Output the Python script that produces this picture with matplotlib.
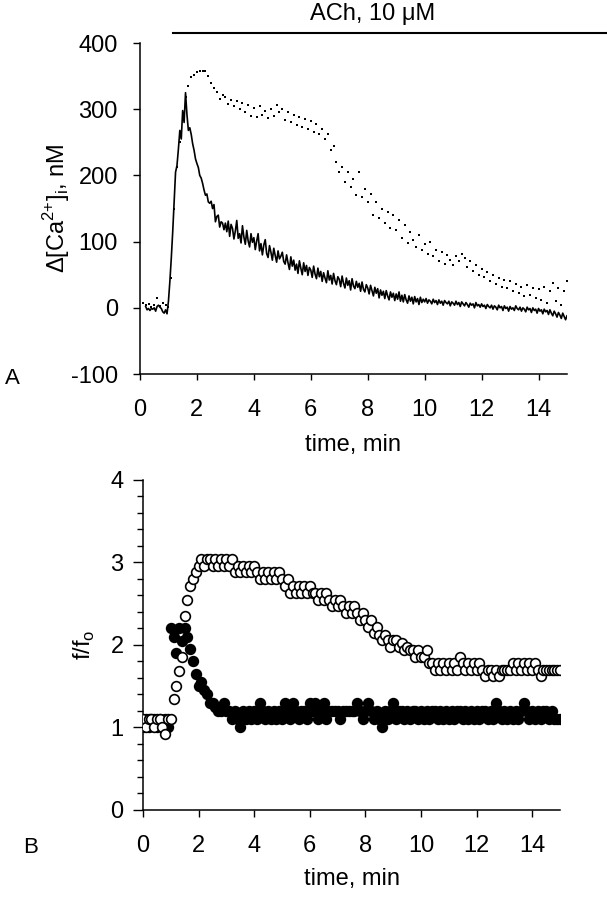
import numpy as np
import matplotlib
matplotlib.use("Agg")
import matplotlib.pyplot as plt
from matplotlib.lines import Line2D
from matplotlib.ticker import MultipleLocator

plt.rcParams['font.family'] = ['Liberation Sans', 'DejaVu Sans']
plt.rcParams['mathtext.fontset'] = 'custom'
plt.rcParams['mathtext.rm'] = 'Liberation Sans'
plt.rcParams['axes.unicode_minus'] = False

# panel A: delta [Ca2+]i, nM; solid trace sampled every 0.05 min from 0.2 min
ca_solid = [
    2, -3, -1, -4, -1, -2, 0, -5, 2, 4, 1, -1, -6, -8, -3, -9,
    10, 40, 75, 115, 160, 205, 215, 240, 268, 255, 298, 280, 325, 292, 268, 272, 262, 248, 238, 225,
    218, 212, 200, 196, 188, 178, 170, 172, 160, 158, 161, 150, 156, 130, 138, 140, 122, 130, 128, 118,
    128, 115, 131, 108, 126, 120, 104, 116, 132, 105, 112, 98, 124, 107, 96, 117, 101, 92, 112, 99,
    106, 88, 101, 112, 86, 97, 80, 95, 103, 82, 76, 94, 84, 72, 90, 79, 69, 86, 74, 78,
    84, 70, 66, 80, 68, 58, 77, 63, 72, 57, 66, 52, 71, 60, 50, 68, 55, 64, 49, 61,
    57, 46, 63, 51, 44, 60, 47, 55, 40, 53, 45, 38, 56, 42, 49, 36, 52, 41, 35, 47,
    43, 32, 48, 37, 30, 45, 34, 41, 27, 44, 33, 29, 40, 31, 37, 25, 39, 28, 24, 35,
    30, 21, 34, 26, 18, 31, 22, 29, 15, 27, 19, 25, 14, 26, 18, 12, 24, 16, 22, 11,
    21, 13, 24, 10, 19, 9, 20, 12, 7, 18, 10, 16, 6, 17, 9, 14, 5, 16, 8, 13,
    9, 14, 7, 12, 10, 6, 13, 8, 11, 5, 12, 7, 10, 4, 11, 8, 6, 10, 3, 9,
    7, 4, 10, 5, 8, 2, 9, 6, 3, 8, 5, 1, 7, 4, 6, 0, 8, 3, 5, 1,
    6, 2, 4, -1, 5, 2, 0, 4, -2, 3, 1, -3, 4, 0, 2, -4, 3, -1, 1, -5,
    2, -2, 0, -4, 3, -1, -3, 1, -5, 0, -2, -6, 1, -3, -1, -7, 0, -4, -2, -8,
    -1, -5, -3, -9, -2, -6, -4, -10, -3, -8, -12, -5, -9, -14, -7, -11, -16, -8, -13, -18,
    -12,
]
t_solid = 0.2 + 0.05 * np.arange(len(ca_solid))

# dotted trace, every 0.1 min from 0.1 min
ca_dots = [
    8, 4, 6, 2, 5, 15, 3, 7, 4,
    2, 45, 150, 212, 250, 290, 318, 335, 348, 352,
    356, 358, 357, 358, 350, 340, 332, 326, 315, 322,
    318, 308, 314, 305, 312, 300, 310, 296, 306, 290,
    302, 288, 305, 291, 298, 286, 300, 290, 306, 296,
    300, 284, 296, 280, 292, 276, 288, 273, 285, 270,
    282, 266, 278, 262, 270, 255, 262, 238, 245, 220,
    205, 212, 190, 205, 182, 195, 170, 205, 168, 180,
    160, 172, 140, 160, 135, 150, 128, 145, 120, 140,
    118, 132, 105, 125, 98, 115, 102, 92, 110, 88,
    96, 82, 100, 78, 88, 70, 85, 66, 80, 72,
    64, 78, 70, 82, 75, 62, 70, 55, 64, 50,
    58, 46, 54, 40, 50, 36, 45, 32, 42, 30,
    40, 25, 36, 22, 32, 18, 35, 20, 30, 15,
    28, 12, 32, 8, 26, 38, 10, 30, 5, 25,
    40,
]
t_dots = 0.1 + 0.1 * np.arange(len(ca_dots))

# panel B: f/fo, every 0.1 min from 0
f_filled = [
    1.0, 1.1, 1.0, 1.1, 1.1, 1.0, 1.1, 1.0, 1.1, 1.0,
    2.2, 2.1, 1.9, 2.2, 2.05, 2.2, 2.1, 1.95, 1.8, 1.65,
    1.5, 1.55, 1.45, 1.4, 1.3, 1.3, 1.25, 1.2, 1.2, 1.3,
    1.2, 1.2, 1.1, 1.2, 1.1, 1.0, 1.2, 1.1, 1.2, 1.1,
    1.2, 1.1, 1.3, 1.2, 1.1, 1.2, 1.1, 1.2, 1.1, 1.2,
    1.1, 1.3, 1.2, 1.1, 1.3, 1.2, 1.1, 1.2, 1.2, 1.1,
    1.3, 1.2, 1.3, 1.1, 1.2, 1.3, 1.1, 1.2, 1.2, 1.2,
    1.2, 1.1, 1.2, 1.2, 1.2, 1.2, 1.2, 1.3, 1.2, 1.1,
    1.2, 1.3, 1.2, 1.1, 1.2, 1.1, 1.0, 1.2, 1.1, 1.2,
    1.3, 1.1, 1.2, 1.2, 1.1, 1.2, 1.1, 1.2, 1.2, 1.1,
    1.2, 1.1, 1.2, 1.1, 1.2, 1.2, 1.1, 1.2, 1.1, 1.2,
    1.1, 1.2, 1.1, 1.2, 1.2, 1.1, 1.2, 1.1, 1.2, 1.1,
    1.2, 1.1, 1.2, 1.2, 1.1, 1.2, 1.1, 1.3, 1.2, 1.1,
    1.2, 1.1, 1.2, 1.1, 1.2, 1.1, 1.2, 1.3, 1.2, 1.1,
    1.2, 1.1, 1.2, 1.1, 1.2, 1.2, 1.1, 1.2, 1.1, 1.1,
    1.1,
]
f_open = [
    1.1, 1.0, 1.1, 1.1, 1.0, 1.1, 1.1, 1.0, 0.92, 1.1,
    1.1, 1.34, 1.5, 1.68, 1.85, 2.35, 2.55, 2.71, 2.8, 2.88,
    2.96, 3.04, 2.96, 3.04, 3.04, 2.96, 3.04, 2.96, 3.04, 2.96,
    3.04, 2.96, 3.04, 2.88, 2.96, 2.88, 2.96, 2.88, 2.96, 2.88,
    2.96, 2.88, 2.8, 2.88, 2.8, 2.88, 2.8, 2.88, 2.8, 2.88,
    2.8, 2.71, 2.8, 2.63, 2.71, 2.63, 2.71, 2.63, 2.71, 2.63,
    2.71, 2.63, 2.63, 2.55, 2.63, 2.55, 2.63, 2.55, 2.47, 2.55,
    2.47, 2.55, 2.47, 2.39, 2.47, 2.39, 2.47, 2.39, 2.3, 2.39,
    2.3, 2.22, 2.3, 2.14, 2.22, 2.12, 2.06, 2.12, 2.06, 1.98,
    2.06, 2.06, 1.98, 2.02, 1.94, 1.98, 1.94, 1.94, 1.86, 1.94,
    1.86, 1.86, 1.94, 1.78, 1.78, 1.7, 1.78, 1.7, 1.78, 1.7,
    1.78, 1.7, 1.78, 1.7, 1.86, 1.78, 1.7, 1.78, 1.7, 1.78,
    1.7, 1.78, 1.7, 1.62, 1.7, 1.7, 1.62, 1.7, 1.62, 1.7,
    1.7, 1.7, 1.7, 1.78, 1.7, 1.78, 1.7, 1.78, 1.7, 1.78,
    1.7, 1.78, 1.7, 1.62, 1.7, 1.7, 1.7, 1.7, 1.7, 1.7,
    1.7,
]
t_filled = 0.1 * np.arange(len(f_filled))
t_open = 0.1 * np.arange(len(f_open))

fig = plt.figure(figsize=(6.07, 9.0), dpi=100)

# ---- panel A
axA = fig.add_axes([0.2306, 0.5844, 0.7035, 0.3678])
axA.plot(t_solid, ca_solid, color='black', lw=1.2)
axA.plot(t_dots, ca_dots, ls='none', marker='s', ms=1.6, color='black', mew=0)
axA.set_xlim(0, 15)
axA.set_ylim(-100, 400)
axA.set_xticks(np.arange(0, 15, 2))
axA.set_yticks(np.arange(-100, 401, 100))
axA.set_xlabel('time, min', fontsize=17, labelpad=9)
axA.set_ylabel('Δ[Ca$^\\mathregular{2{+}}$]$_\\mathregular{i}$, nM', fontsize=17)
axA.yaxis.set_label_coords(-0.16, 0.5)
axA.tick_params(axis='x', labelsize=17, length=4, width=1, pad=14)
axA.tick_params(axis='y', labelsize=17, length=5, width=1, pad=11)

# ---- panel B
axB = fig.add_axes([0.2356, 0.1, 0.687, 0.3667])
axB.plot(t_filled, f_filled, ls='none', marker='o', ms=7, mfc='black', mec='black', mew=1.2, zorder=2)
axB.plot(t_open, f_open, ls='none', marker='o', ms=7, mfc='white', mec='black', mew=1.2, zorder=3)
axB.set_xlim(0, 15)
axB.set_ylim(0, 4)
axB.set_xticks(np.arange(0, 15, 2))
axB.set_yticks(np.arange(0, 5, 1))
axB.yaxis.set_minor_locator(MultipleLocator(0.2))
axB.set_xlabel('time, min', fontsize=17, labelpad=8)
axB.set_ylabel('f/f$_\\mathregular{o}$', fontsize=17)
axB.yaxis.set_label_coords(-0.11, 0.5)
axB.tick_params(axis='x', labelsize=17, length=5, width=1, pad=13)
axB.tick_params(axis='y', which='major', labelsize=17, length=7, width=1, pad=7)
axB.tick_params(axis='y', which='minor', length=4, width=1)

for ax in (axA, axB):
    for side in ('top', 'right'):
        ax.spines[side].set_visible(False)
    for side in ('left', 'bottom'):
        ax.spines[side].set_linewidth(1.1)

# ACh bar and panel letters
fig.add_artist(Line2D([0.285, 1.0], [0.9633, 0.9633], color='black', lw=1.5))
fig.text(0.6145, 0.984, 'ACh, 10 μM', fontsize=17, ha='center', va='center')
fig.text(0.008, 0.58, 'A', fontsize=16, ha='left', va='center')
fig.text(0.038, 0.058, 'B', fontsize=16, ha='left', va='center')

fig.savefig('out.png', dpi=100)
